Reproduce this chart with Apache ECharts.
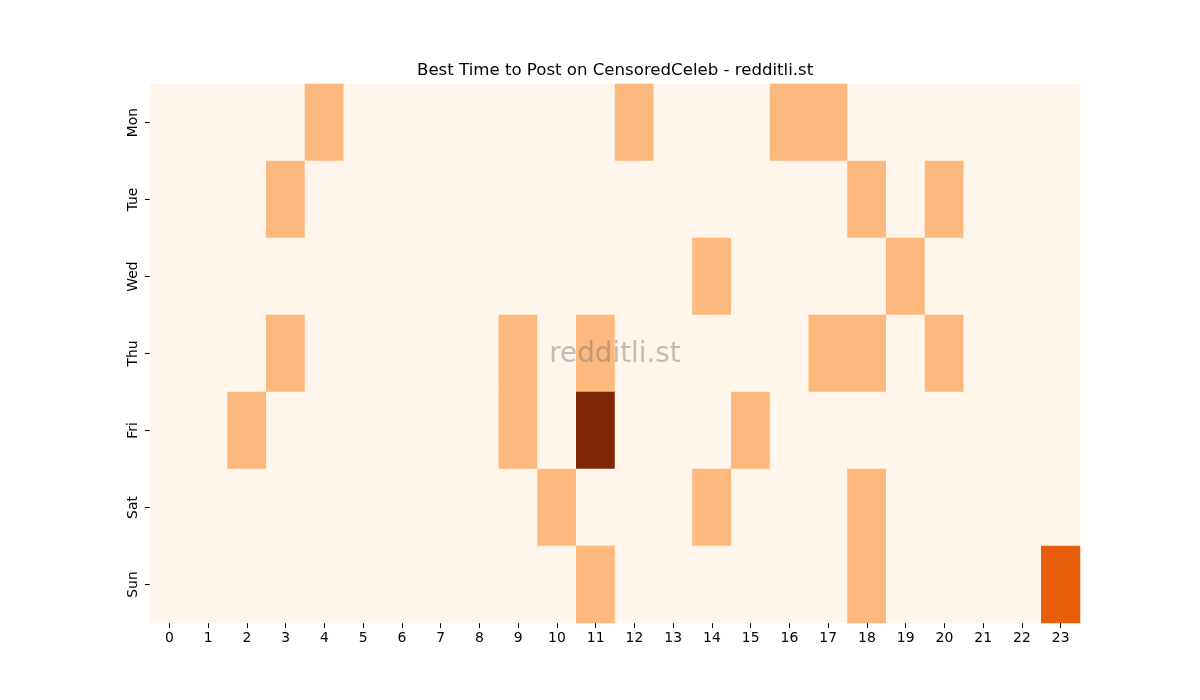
<!DOCTYPE html>
<html>
<head>
<meta charset="utf-8">
<script src="https://cdn.jsdelivr.net/npm/echarts@6/dist/echarts.min.js"></script>
<style>html,body{margin:0;padding:0;background:#fff}#c{width:1200px;height:700px}</style>
</head>
<body>
<div id="c"></div>
<script>
const hours = ['0','1','2','3','4','5','6','7','8','9','10','11','12','13','14','15','16','17','18','19','20','21','22','23'];
const days = ['Mon','Tue','Wed','Thu','Fri','Sat','Sun'];
// non-zero cells: [hour, dayIndex, value]
const nonZero = [
  [4,0,1],[12,0,1],[16,0,1],[17,0,1],
  [3,1,1],[18,1,1],[20,1,1],
  [14,2,1],[19,2,1],
  [3,3,1],[9,3,1],[11,3,1],[17,3,1],[18,3,1],[20,3,1],
  [2,4,1],[9,4,1],[11,4,3],[15,4,1],
  [10,5,1],[14,5,1],[18,5,1],
  [11,6,1],[18,6,1],[23,6,2]
];
const levelColors = ['#fff5eb','#fdb97d','#e95e0d','#7f2704'];

const data = [];
for (let d = 0; d < days.length; d++) {
  for (let h = 0; h < hours.length; h++) {
    const f = nonZero.find(p => p[0] === h && p[1] === d);
    data.push([h, d, f ? f[2] : 0]);
  }
}

const chart = echarts.init(document.getElementById('c'));
const font = 'DejaVu Sans';
chart.setOption({
  animation: false,
  backgroundColor: '#ffffff',
  title: {
    text: 'Best Time to Post on CensoredCeleb - redditli.st',
    left: 412, top: 57,
    textStyle: {fontFamily: font, fontSize: 16.6, fontWeight: 'normal', color: '#000'}
  },
  grid: {left: 150, right: 120, top: 84, bottom: 77},
  xAxis: {
    type: 'category', data: hours,
    axisLine: {show: false},
    axisTick: {show: true, alignWithLabel: true, length: 5, lineStyle: {color: '#000'}},
    axisLabel: {fontFamily: font, fontSize: 13.9, color: '#000', margin: 8},
    splitArea: {show: false}
  },
  yAxis: {
    type: 'category', data: days, inverse: true,
    axisLine: {show: false},
    axisTick: {show: true, alignWithLabel: true, length: 5, lineStyle: {color: '#000'}},
    axisLabel: {fontFamily: font, fontSize: 13.9, color: '#000', rotate: 90, margin: 10}
  },
  visualMap: {
    show: false, type: 'piecewise', dimension: 2,
    pieces: levelColors.map((c, i) => ({value: i, color: c}))
  },
  series: [{
    type: 'heatmap', data: data,
    itemStyle: {borderWidth: 0},
    emphasis: {disabled: true}
  }],
  graphic: [{
    type: 'text', z: 100, x: 615, y: 355,
    style: {text: 'redditli.st', fontFamily: font, fontSize: 27.8, fill: 'rgba(110,110,110,0.42)',
            align: 'center', verticalAlign: 'middle'}
  }]
});
</script>
</body>
</html>
